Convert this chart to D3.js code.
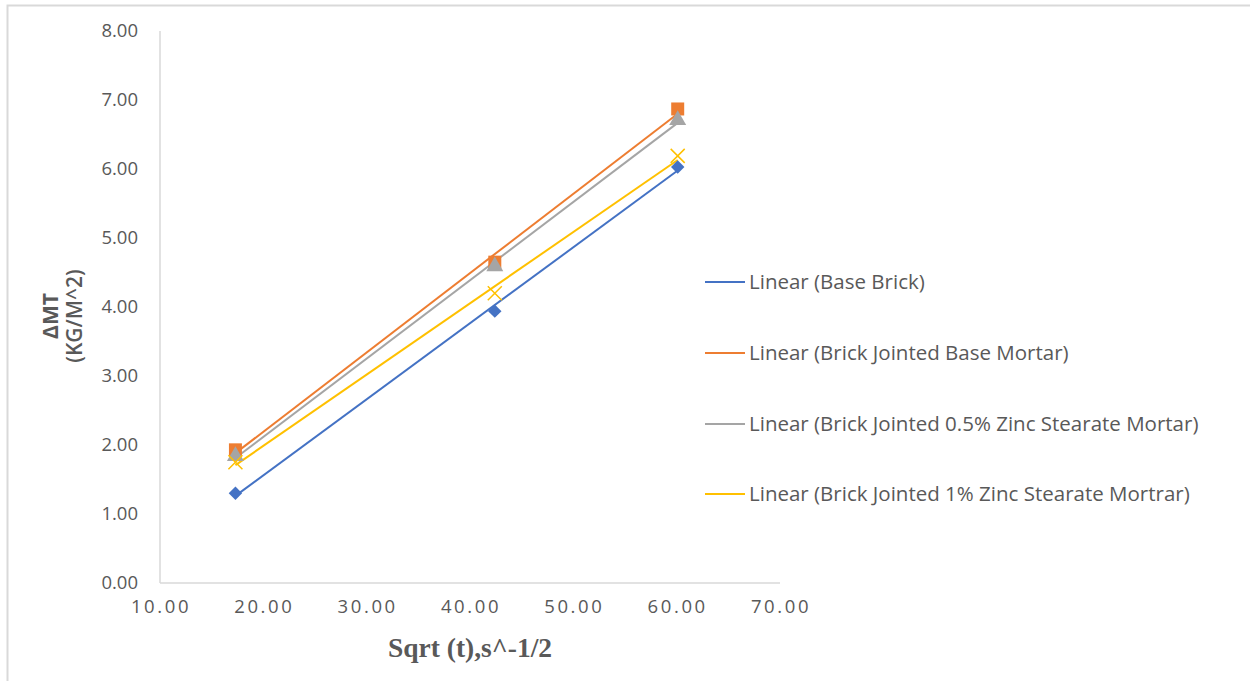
<!DOCTYPE html>
<html lang="en">
<head>
  <meta charset="UTF-8">
  <style>
    body { margin: 0; overflow: hidden; background: #fff; }
    svg { display: block; }
    .tick-label { font-family: "Open Sans", "Noto Sans", sans-serif; font-size: 18.5px; fill: #595959; }
    .legend-text { font-family: "Open Sans", "Noto Sans", sans-serif; font-size: 20.5px; fill: #595959; }
  </style>
  <script src="https://d3js.org/d3.v7.min.js"></script>
</head>
<body>
<svg id="chart"></svg>
<script>
  // series names (legend shows the trendlines)
  const seriesNames = [
    "Base Brick",
    "Brick Jointed Base Mortar",
    "Brick Jointed 0.5% Zinc Stearate Mortar",
    "Brick Jointed 1% Zinc Stearate Mortrar"
  ];
  const seriesColors = ["#4472c4", "#ed7d31", "#a5a5a5", "#ffc000"];
  const seriesMarkers = ["diamond", "square", "triangle", "cross"];

  const sqrtT = [17.3, 42.4, 60.1];
  const baseBrick = [1.30, 3.94, 6.03];
  const baseMortar = [1.93, 4.65, 6.87];
  const zinc05 = [1.84, 4.59, 6.71];
  const zinc1 = [1.75, 4.20, 6.19];
  const seriesValues = [baseBrick, baseMortar, zinc05, zinc1];

  const xTicks = [10, 20, 30, 40, 50, 60, 70];
  const yTicks = [0, 1, 2, 3, 4, 5, 6, 7, 8];

  const W = 1250, H = 681;
  const svg = d3.select("#chart").attr("width", W).attr("height", H);

  // outer chart border
  svg.append("rect")
    .attr("x", 7.5).attr("y", 5.5)
    .attr("width", W).attr("height", H)
    .attr("fill", "none").attr("stroke", "#d9d9d9").attr("stroke-width", 2);

  const x = d3.scaleLinear().domain([10, 70]).range([160, 780]);
  const y = d3.scaleLinear().domain([0, 8]).range([583, 31]);

  // axis lines
  svg.append("line")
    .attr("x1", x(10)).attr("x2", x(10))
    .attr("y1", y(8)).attr("y2", y(0))
    .attr("stroke", "#d9d9d9").attr("stroke-width", 1.5);
  svg.append("line")
    .attr("x1", x(10)).attr("x2", x(70))
    .attr("y1", y(0)).attr("y2", y(0))
    .attr("stroke", "#d9d9d9").attr("stroke-width", 1.5);

  // tick labels
  svg.selectAll(".ytick").data(yTicks).enter().append("text")
    .attr("class", "tick-label")
    .attr("x", 138)
    .attr("y", d => y(d))
    .attr("dy", "0.35em")
    .attr("text-anchor", "end")
    .text(d => d.toFixed(2));

  svg.selectAll(".xtick").data(xTicks).enter().append("text")
    .attr("class", "tick-label")
    .attr("x", d => x(d) + 1)
    .attr("y", 613)
    .attr("text-anchor", "middle")
    .style("letter-spacing", "2.6px")
    .text(d => d.toFixed(2));

  // axis titles
  svg.append("text")
    .attr("x", 470).attr("y", 657)
    .attr("text-anchor", "middle")
    .attr("font-family", "'Liberation Serif', 'Times New Roman', serif")
    .attr("font-weight", "bold")
    .attr("font-size", 27.5)
    .attr("fill", "#595959")
    .text("Sqrt (t),s^-1/2");

  const yTitle = svg.append("text")
    .attr("transform", "translate(0,316) rotate(-90)")
    .attr("text-anchor", "middle")
    .attr("font-family", "'Open Sans', 'Noto Sans', sans-serif")
    .attr("font-size", 21)
    .attr("fill", "#595959");
  yTitle.append("tspan").attr("x", 0).attr("y", 58).attr("font-weight", "bold").text("ΔMT");
  yTitle.append("tspan").attr("x", 0).attr("y", 82).attr("font-weight", 600).text("(KG/M^2)");

  // linear trendlines (least squares)
  function fit(xs, ys) {
    const mx = d3.mean(xs), my = d3.mean(ys);
    const sxy = d3.sum(xs, (v, i) => (v - mx) * (ys[i] - my));
    const sxx = d3.sum(xs, v => (v - mx) * (v - mx));
    const b = sxy / sxx;
    return { a: my - b * mx, b: b };
  }

  const xMin = d3.min(sqrtT), xMax = d3.max(sqrtT);
  seriesValues.forEach((vals, i) => {
    const f = fit(sqrtT, vals);
    svg.append("line")
      .attr("x1", x(xMin)).attr("y1", y(f.a + f.b * xMin))
      .attr("x2", x(xMax)).attr("y2", y(f.a + f.b * xMax))
      .attr("stroke", seriesColors[i]).attr("stroke-width", 2);
  });

  // markers
  const symbolTypes = {
    diamond: d3.symbolSquare,
    square: d3.symbolSquare,
    triangle: d3.symbolTriangle,
    cross: d3.symbolX
  };
  const symbolSizes = { diamond: 90, square: 169, triangle: 125, cross: 130 };
  const symbolRotate = { diamond: 45, square: 0, triangle: 0, cross: 0 };

  seriesValues.forEach((vals, i) => {
    const m = seriesMarkers[i];
    const sym = d3.symbol().type(symbolTypes[m]).size(symbolSizes[m]);
    svg.selectAll(".pt" + i).data(vals).enter().append("path")
      .attr("d", sym)
      .attr("transform", (d, j) => `translate(${x(sqrtT[j])},${y(d)}) rotate(${symbolRotate[m]})`)
      .attr("fill", m === "cross" ? "none" : seriesColors[i])
      .attr("stroke", m === "cross" ? seriesColors[i] : "none")
      .attr("stroke-width", 1.5);
  });

  // legend
  const legendY = [282, 353, 424, 494];
  const legend = svg.selectAll(".legend").data(seriesNames).enter().append("g")
    .attr("transform", (d, i) => `translate(705,${legendY[i]})`);
  legend.append("line")
    .attr("x1", 0).attr("x2", 40)
    .attr("stroke", (d, i) => seriesColors[i]).attr("stroke-width", 2);
  legend.append("text")
    .attr("class", "legend-text")
    .attr("x", 44).attr("dy", "0.35em")
    .text(d => "Linear (" + d + ")");
</script>
</body>
</html>
